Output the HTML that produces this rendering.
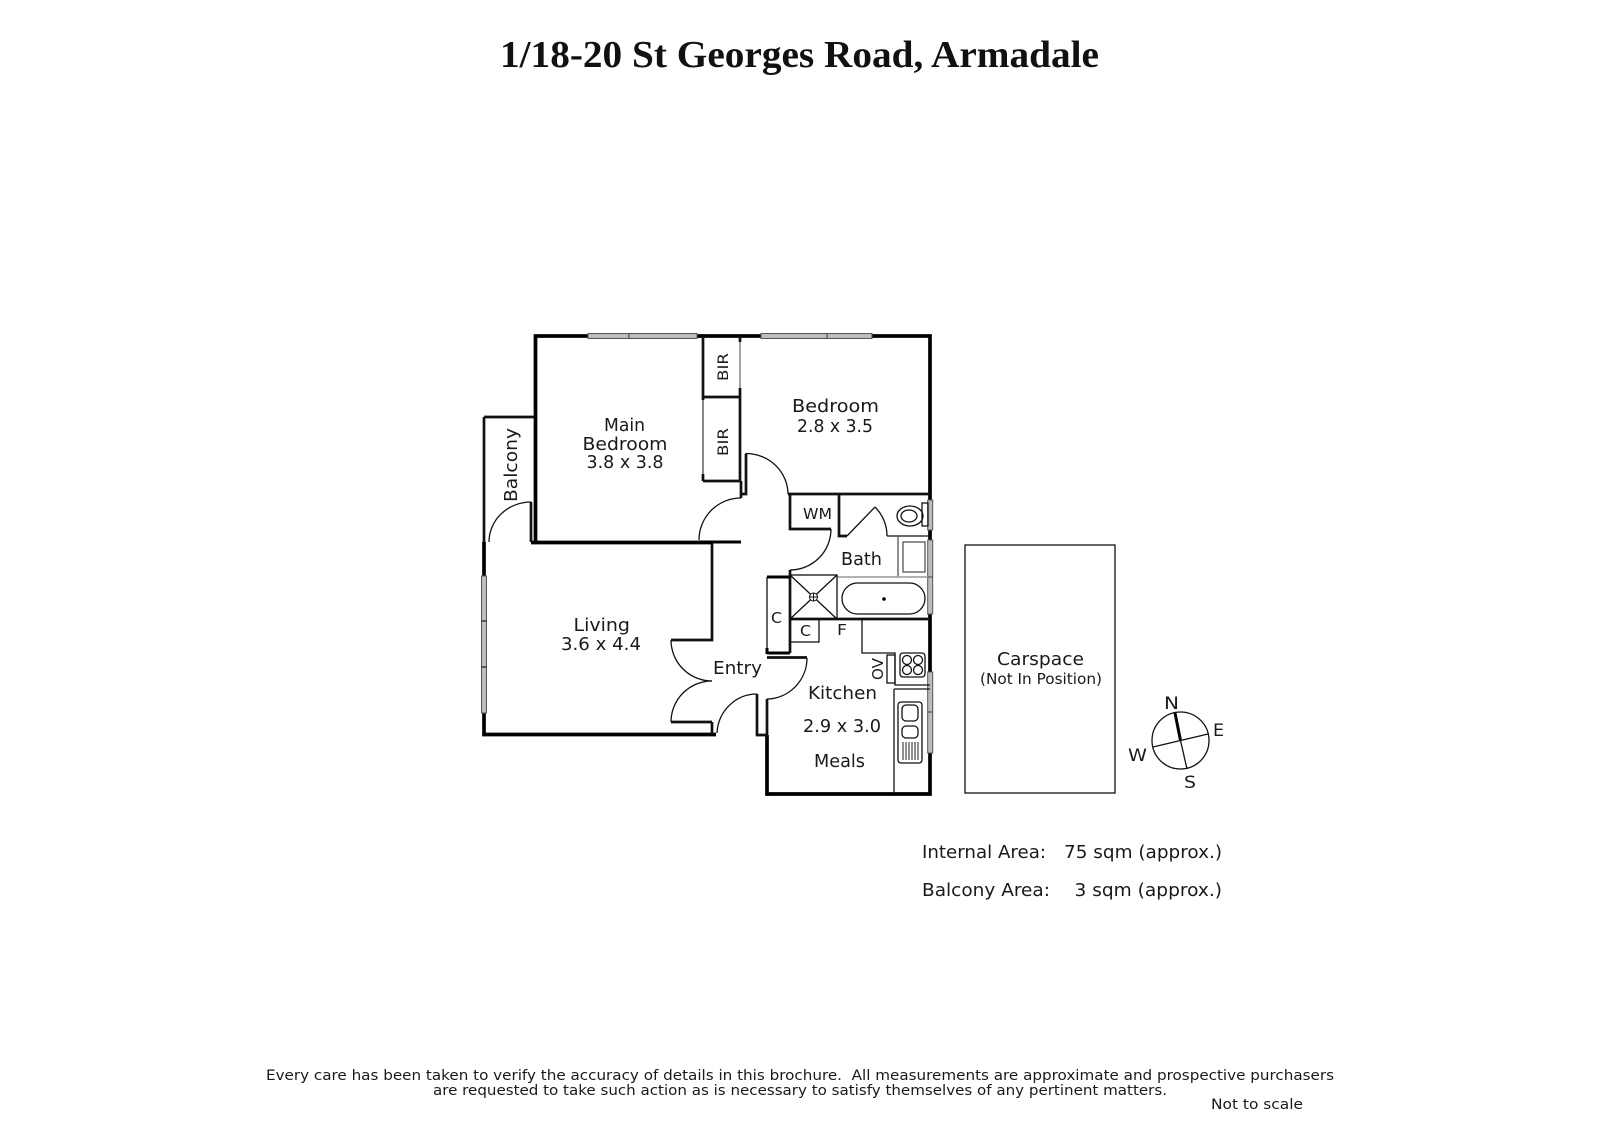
<!DOCTYPE html>
<html><head><meta charset="utf-8"><style>
html,body{margin:0;padding:0;background:#fff}
svg{display:block}
text{font-family:"DejaVu Sans","Liberation Sans",sans-serif;fill:#1a1a1a;font-size:18px}
.t{fill:none;stroke:#111;stroke-width:1.3}
.m{fill:none;stroke:#111;stroke-width:2.7}
.k{fill:none;stroke:#000;stroke-width:3.7}
.w{fill:#bdbdbd;stroke:#555;stroke-width:1}
</style></head><body>
<svg width="1600" height="1131" viewBox="0 0 1600 1131" xmlns="http://www.w3.org/2000/svg">
<rect width="1600" height="1131" fill="#fff"/>
<text x="500" y="67" textLength="599" lengthAdjust="spacingAndGlyphs" style="font-family:'Liberation Serif',serif;font-weight:bold;font-size:38px;fill:#111">1/18-20 St Georges Road, Armadale</text>

<!-- walls -->
<path class="k" d="M535.5 542V336H930V794H767V735"/>
<path class="m" d="M484 417H534M484 417V542M531 502V542"/>
<path class="k" d="M484 542V734.5H716M531 542.5H712"/>
<path class="m" d="M712 543V640H671"/>
<path class="k" d="M699 542H741" style="stroke-width:3"/>
<path class="m" d="M703 336V400M703 397H740M703 481H740M703 474V481M740 336V342M740 388V481"/>
<path class="t" d="M703 400V474" style="stroke-width:1"/>
<path d="M740 342V388" stroke="#666" stroke-width="1.2"/>
<path class="m" d="M741 481V498M746 453.5V494H741M788 494H930"/>
<path class="m" d="M790 494V529H831M839 494V536H847M790 570V653"/>
<path class="k" d="M767 577H790M767 653H790M767 648V654" style="stroke-width:3"/>
<path class="t" d="M767 577V648"/>
<path class="m" d="M767 657.5H807M712 722V734M712 722H671M767 699V735H757V694"/>
<path class="m" d="M790 619H930"/>

<!-- door arcs -->
<path class="t" d="M531 502A42 40 0 0 0 489 542"/>
<path class="t" d="M741 498A42 42 0 0 0 699 540"/>
<path class="t" d="M746 453.5A42 41 0 0 1 788 494"/>
<path class="t" d="M831 529A41 41 0 0 1 790 570"/>
<path class="t" d="M807 658A41 41 0 0 1 767 699"/>
<path class="t" d="M757 694A40 41 0 0 0 717 733"/>
<path class="t" d="M671 722A41 41 0 0 1 712 681"/>
<path class="t" d="M671 640A41 41 0 0 0 712 681"/>
<path class="t" d="M875 507A41 41 0 0 1 887 536M847 536L875 507M887 536H930"/>

<!-- windows -->
<rect class="w" x="588" y="333.5" width="109" height="5"/><path d="M629 333.5v5" stroke="#333"/>
<rect class="w" x="761" y="333.5" width="111" height="5"/><path d="M827 333.5v5" stroke="#333"/>
<rect class="w" x="481.5" y="576" width="5" height="137"/><path d="M481.5 621h5M481.5 667h5" stroke="#222" stroke-width="1.2"/>
<rect class="w" x="927.7" y="500" width="5" height="30"/>
<rect class="w" x="927.7" y="540" width="5" height="74"/><path d="M927.7 577h5" stroke="#444"/>
<rect class="w" x="927.7" y="672" width="5" height="81"/><path d="M927.7 712h5" stroke="#444"/>

<!-- bathroom fixtures -->
<ellipse class="t" cx="910" cy="516" rx="13" ry="10"/>
<ellipse class="t" cx="909" cy="516" rx="8" ry="6"/>
<rect class="t" x="922" y="503" width="6" height="23" fill="#fff"/>
<path class="t" d="M898 577V536" style="stroke:#555"/>
<rect class="t" x="903" y="542" width="22" height="30" style="stroke:#555"/>
<path d="M837 577H928" stroke="#999" stroke-width="1.5"/>
<rect class="t" x="790" y="575" width="47" height="44"/>
<path class="t" d="M790 575L837 619M837 575L790 619"/>
<circle cx="813.5" cy="597" r="4" fill="#fff" stroke="#111"/>
<path d="M809.5 597h8M813.5 593v8" stroke="#111"/>
<rect class="t" x="842" y="583" width="83" height="31" rx="15.5"/>
<circle cx="884" cy="599" r="1.8" fill="#000"/>

<!-- kitchen -->
<rect class="t" x="790" y="619" width="29" height="23"/>
<path class="t" d="M862 619V653H895V685H930M894 689H930M894 689V793"/>
<rect class="t" x="887" y="655" width="8" height="28"/>
<rect class="t" x="900" y="653" width="25" height="24" rx="3"/>
<circle class="t" cx="907" cy="660" r="4.5"/><circle class="t" cx="918" cy="660" r="4.5"/>
<circle class="t" cx="907" cy="670" r="4.5"/><circle class="t" cx="918" cy="670" r="4.5"/>
<rect class="t" x="898" y="702" width="24" height="61" rx="3"/>
<rect class="t" x="902" y="705" width="16" height="16" rx="4"/>
<rect class="t" x="902" y="726" width="16" height="12" rx="4"/>
<path d="M903 742v18M906 742v18M909 742v18M912 742v18M915 742v18M918 742v18" stroke="#222" stroke-width="1"/>

<!-- carspace -->
<rect class="t" x="965" y="545" width="150" height="248"/>

<!-- compass -->
<circle class="t" cx="1180.5" cy="740.5" r="28.5"/>
<path d="M1175 713L1180.5 740.5" stroke="#000" stroke-width="3"/>
<path class="t" d="M1180.5 740.5L1187 769M1153 747L1208 734"/>
<text x="1164" y="709" textLength="15" lengthAdjust="spacingAndGlyphs" style="font-size:17px">N</text>
<text x="1213" y="736" textLength="11" lengthAdjust="spacingAndGlyphs" style="font-size:17px">E</text>
<text x="1128" y="761" textLength="19" lengthAdjust="spacingAndGlyphs" style="font-size:17px">W</text>
<text x="1184" y="788" textLength="12" lengthAdjust="spacingAndGlyphs" style="font-size:17px">S</text>

<!-- room labels -->
<g>
<text x="604" y="431" textLength="41" lengthAdjust="spacingAndGlyphs">Main</text>
<text x="582.5" y="450" textLength="85" lengthAdjust="spacingAndGlyphs">Bedroom</text>
<text x="586.5" y="468" textLength="77" lengthAdjust="spacingAndGlyphs">3.8 x 3.8</text>
<text transform="translate(517 502) rotate(-90)" textLength="74" lengthAdjust="spacingAndGlyphs">Balcony</text>
<text transform="translate(728 381) rotate(-90)" textLength="28" lengthAdjust="spacingAndGlyphs" style="font-size:14px">BIR</text>
<text transform="translate(728 456) rotate(-90)" textLength="28" lengthAdjust="spacingAndGlyphs" style="font-size:14px">BIR</text>
<text x="792" y="412" textLength="87" lengthAdjust="spacingAndGlyphs">Bedroom</text>
<text x="797" y="432" textLength="76" lengthAdjust="spacingAndGlyphs">2.8 x 3.5</text>
<text x="803" y="519" textLength="29" lengthAdjust="spacingAndGlyphs" style="font-size:15px">WM</text>
<text x="841" y="565" textLength="41" lengthAdjust="spacingAndGlyphs">Bath</text>
<text x="771" y="623" textLength="11" lengthAdjust="spacingAndGlyphs" style="font-size:15px">C</text>
<text x="800" y="636" textLength="11" lengthAdjust="spacingAndGlyphs" style="font-size:15px">C</text>
<text x="837" y="635" textLength="10" lengthAdjust="spacingAndGlyphs" style="font-size:15px">F</text>
<text x="713" y="674" textLength="49" lengthAdjust="spacingAndGlyphs">Entry</text>
<text x="808" y="699" textLength="69" lengthAdjust="spacingAndGlyphs">Kitchen</text>
<text x="803" y="732" textLength="78" lengthAdjust="spacingAndGlyphs">2.9 x 3.0</text>
<text x="814" y="767" textLength="51" lengthAdjust="spacingAndGlyphs">Meals</text>
<text transform="translate(883 680) rotate(-90)" textLength="22" lengthAdjust="spacingAndGlyphs" style="font-size:15px">OV</text>
<text x="573.5" y="631" textLength="56.5" lengthAdjust="spacingAndGlyphs">Living</text>
<text x="561" y="650" textLength="80" lengthAdjust="spacingAndGlyphs">3.6 x 4.4</text>
<text x="997" y="665" textLength="87" lengthAdjust="spacingAndGlyphs">Carspace</text>
<text x="980" y="684" textLength="122" lengthAdjust="spacingAndGlyphs" style="font-size:15px">(Not In Position)</text>
<text x="922" y="858" textLength="124" lengthAdjust="spacingAndGlyphs">Internal Area:</text>
<text x="1064" y="858" textLength="158" lengthAdjust="spacingAndGlyphs">75 sqm (approx.)</text>
<text x="922" y="896" textLength="128" lengthAdjust="spacingAndGlyphs">Balcony Area:</text>
<text x="1074.5" y="896" textLength="147.5" lengthAdjust="spacingAndGlyphs">3 sqm (approx.)</text>
<text x="266" y="1080" textLength="1068" lengthAdjust="spacingAndGlyphs" style="font-size:14.5px">Every care has been taken to verify the accuracy of details in this brochure.&#160; All measurements are approximate and prospective purchasers</text>
<text x="433" y="1095" textLength="734" lengthAdjust="spacingAndGlyphs" style="font-size:14.5px">are requested to take such action as is necessary to satisfy themselves of any pertinent matters.</text>
<text x="1211" y="1109" textLength="92" lengthAdjust="spacingAndGlyphs" style="font-size:14.5px">Not to scale</text>
</g>
</svg>
</body></html>
